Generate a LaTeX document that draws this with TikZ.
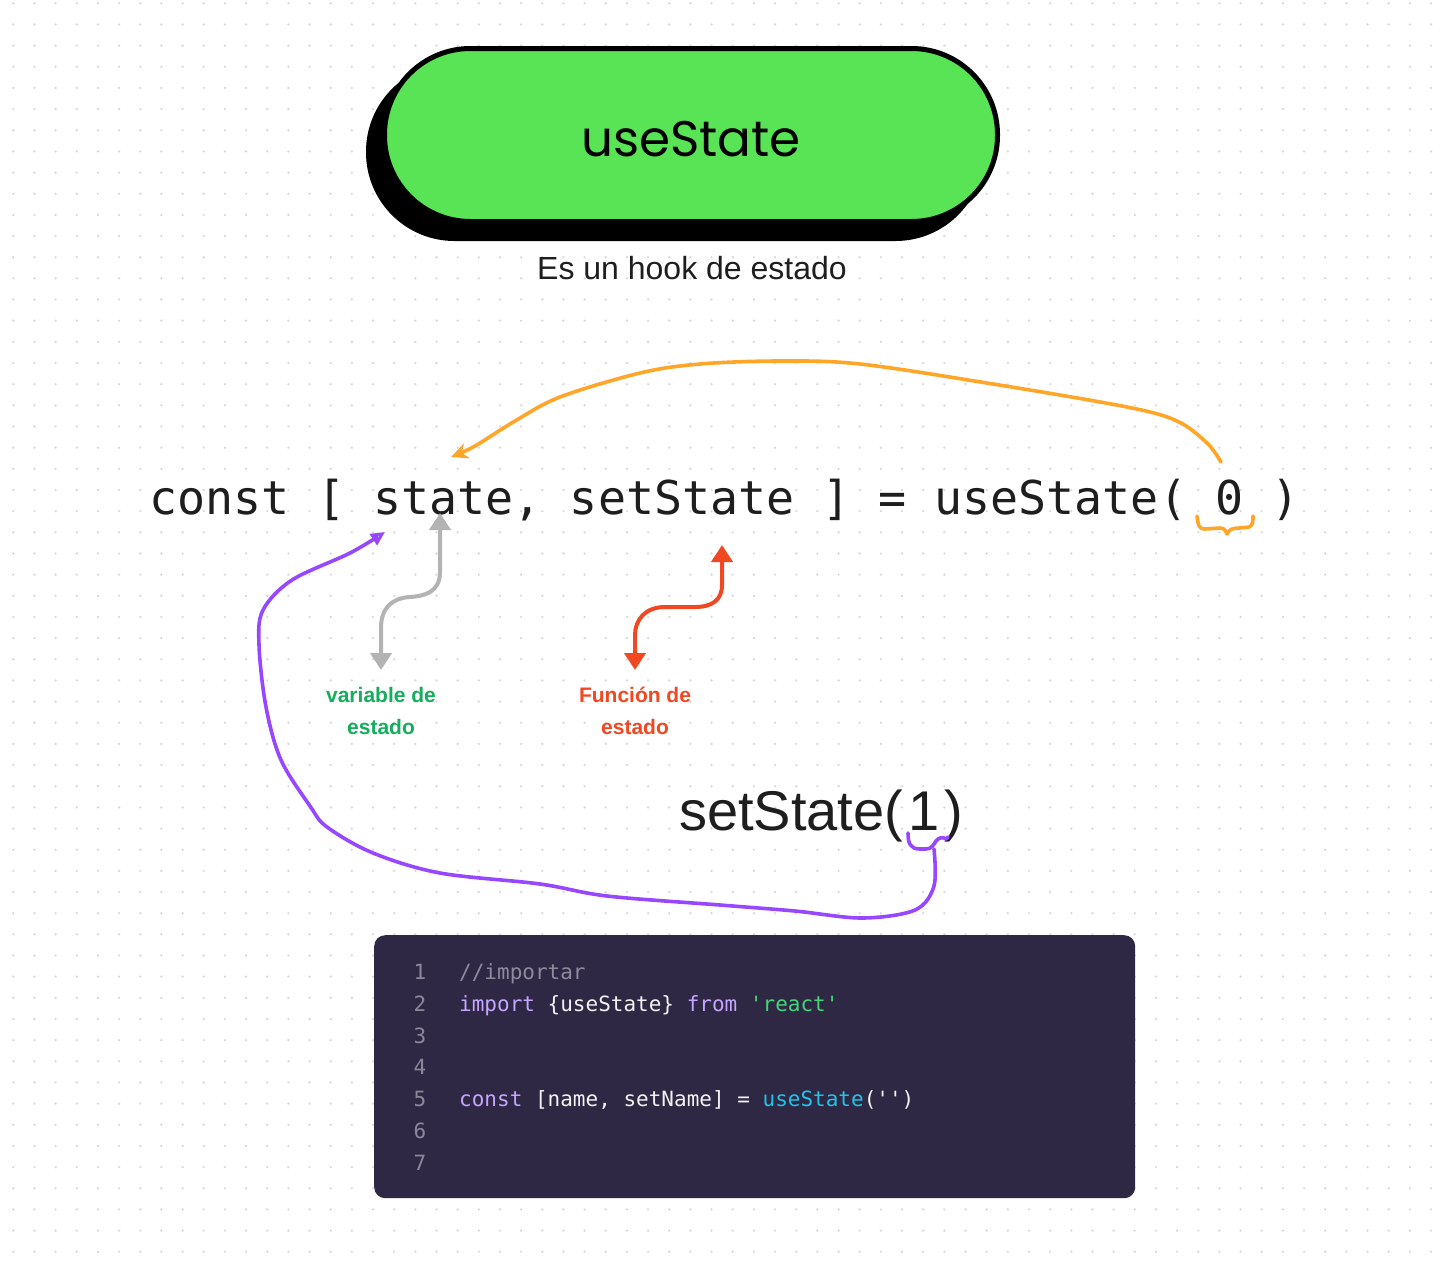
\documentclass[tikz,border=0pt]{standalone}
\usepackage{fontspec}
\setmainfont{Liberation Sans}
\newfontfamily\monofont[Ligatures=TeXOff]{DejaVu Sans Mono}
\newfontfamily\handfont{Poppins}
\usetikzlibrary{arrows.meta}
\definecolor{dotc}{HTML}{DADADA}
\definecolor{pillgreen}{HTML}{58E454}
\definecolor{ink}{HTML}{1E1E1E}
\definecolor{grayarr}{HTML}{B3B3B3}
\definecolor{redarr}{HTML}{F24822}
\definecolor{greenlbl}{HTML}{14AE5C}
\definecolor{orangearr}{HTML}{FFA629}
\definecolor{purplearr}{HTML}{9747FF}
\definecolor{codebg}{HTML}{2E2845}
\definecolor{lnum}{HTML}{8C879B}
\definecolor{cmt}{HTML}{8F8A9E}
\definecolor{kw}{HTML}{C4A6FF}
\definecolor{txt}{HTML}{F2F2F2}
\definecolor{strc}{HTML}{45D477}
\definecolor{fnc}{HTML}{22C3E9}
\begin{document}
\begin{tikzpicture}[x=1pt,y=-1pt,
  bigmono/.style={anchor=base west,inner sep=0pt,text=ink,font=\monofont\fontsize{46.6}{46.6}\selectfont},
  codeline/.style={anchor=base west,inner sep=0pt,text=txt,font=\monofont\fontsize{21}{21}\selectfont},
  lnumber/.style={anchor=base,inner sep=0pt,text=lnum,font=\monofont\fontsize{21}{21}\selectfont},
  lbl/.style={align=center,inner sep=0pt,font=\bfseries\fontsize{21}{32}\selectfont},
  stemarrow/.style={line width=4pt,{Triangle[length=17pt,width=21pt]}-{Triangle[length=17pt,width=21pt]}},
  handline/.style={line width=3.6pt,line cap=round,line join=round}]
\useasboundingbox (0,0) rectangle (1442,1261);
\fill[white] (0,0) rectangle (1442,1261);
% dot grid
\foreach \i in {0,...,67}{
  \foreach \j in {0,...,59}{
    \fill[dotc] (13.3+21.16*\i,3.3+21.16*\j) circle (1.3pt);
  }
}
% pill
\node (pillshadow) [fill=black,draw=black,line width=5pt,rounded corners=86pt,minimum width=613pt,minimum height=173pt] at (675,152) {};
\node (pill) [fill=pillgreen,draw=black,line width=5pt,rounded corners=86pt,minimum width=613pt,minimum height=173pt] at (691,135) {};
\node (pilltext) at (691,139) {\handfont\fontsize{50}{50}\selectfont useState};
\node (hook) [text=ink] at (692,268) {\fontsize{32}{32}\selectfont Es un hook de estado};
% main code line
\node (kconst) [bigmono] at (149,514) {const};
\node (lbr) [bigmono] at (149+6*28.05,514) {[};
\node (state) [bigmono] at (149+8*28.05,514) {state,};
\node (setstate) [bigmono] at (149+15*28.05,514) {setState};
\node (rbr) [bigmono] at (149+24*28.05,514) {]};
\node (eq) [bigmono] at (149+26*28.05,514) {=};
\node (usest) [bigmono] at (149+28*28.05,514) {useState(};
\node (zero) [bigmono] at (149+38*28.05,514) {0};
\node (rpar) [bigmono] at (149+40*28.05,514) {)};
% labels
\node (varlbl) [lbl,text=greenlbl] at (381,711) {variable de\\estado};
\node (funlbl) [lbl,text=redarr] at (635,711) {Función de\\estado};
% setState(1)
\node (setone) [text=ink,inner sep=0pt,anchor=base west] at (679,830) {\fontsize{56}{56}\selectfont setState(\hspace{5pt}1\hspace{5pt})};
% coordinates
\coordinate (gTop) at (440,513);
\coordinate (gBot) at (381,670);
\coordinate (rTop) at (722,545);
\coordinate (rBot) at (635,670);
\coordinate (oStart) at (1221,462);
\coordinate (oEnd) at (451,457);
\coordinate (pStart) at (934,849);
\coordinate (pEnd) at (385,532);
% gray arrow
\draw[grayarr,stemarrow] (gTop) -- (440,572) .. controls (440,592) and (425,596) .. (410,597) .. controls (392,598) and (381,608) .. (381,628) -- (gBot);
% red arrow
\draw[redarr,stemarrow] (rTop) -- (722,585) .. controls (722,600) and (712,607) .. (695,607) -- (665,607) .. controls (645,607) and (635,620) .. (635,635) -- (rBot);
% orange curve
\draw[orangearr,handline,-{Stealth[length=17pt,width=16pt]}] plot[smooth,tension=0.55] coordinates {(oStart) (1207,443) (1177,421) (1127,407) (993,384) (860,364) (780,361) (700,364) (640,373) (560,397) (515,421) (475,446) (oEnd)};
% orange brace under 0
\draw[orangearr,handline] (1197,516) .. controls (1198,524) and (1198,529) .. (1205,529) -- (1220,528) .. controls (1225,528) and (1226,532) .. (1227,534) .. controls (1229,529) and (1233,528) .. (1240,528) -- (1249,527) .. controls (1253,526) and (1253,520) .. (1253,516);
% purple brace under 1
\draw[purplearr,handline] (908,833) .. controls (908,843) and (910,849) .. (920,849) -- (926,849) .. controls (932,849) and (934,844) .. (936,841) .. controls (939,837) and (943,837) .. (946,839) -- (948,837);
% purple curve
\draw[purplearr,handline,-{Triangle[open,length=14pt,width=13pt,line width=3pt]}] plot[smooth,tension=0.55] coordinates {(pStart) (934,886) (915,910) (862,918) (795,911) (720,905) (607,896) (540,884) (440,873) (373,853) (327,827) (310,806) (281,760) (266,707) (259,645) (263,610) (292,580) (350,553) (pEnd)};
% code box
\node (codebox) [fill=codebg,rounded corners=11pt,minimum width=761pt,minimum height=263pt,anchor=north west,inner sep=0pt] at (374,935) {};
\foreach \k in {1,...,7}{
  \node (ln\k) [lnumber] at (420,979.5+31.8*\k-31.8) {\k};
}
\node (c1) [codeline,text=cmt] at (459,979.5) {//importar};
\node (c2) [codeline] at (459,1011.3) {\textcolor{kw}{import} \{useState\} \textcolor{kw}{from} \textcolor{strc}{'react'}};
\node (c5) [codeline] at (459,1106.7) {\textcolor{kw}{const} [name, setName] = \textcolor{fnc}{useState}('')};
\end{tikzpicture}
\end{document}
